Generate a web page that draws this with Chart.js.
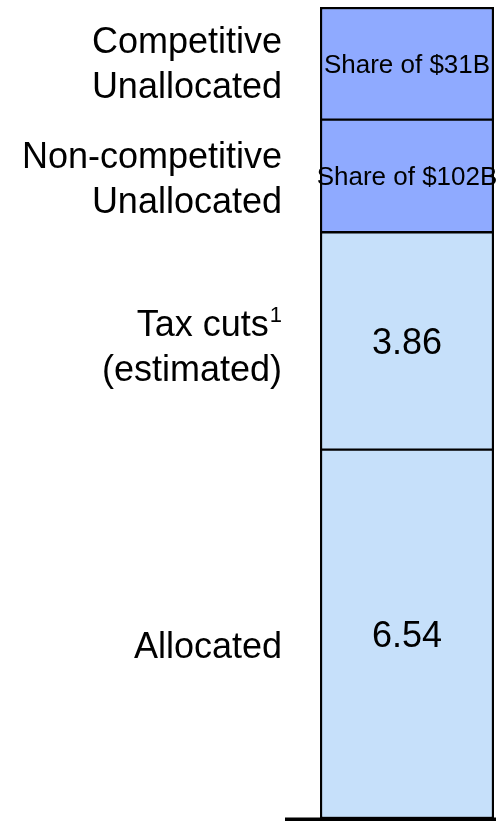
<!DOCTYPE html>
<html>
<head>
<meta charset="utf-8">
<script src="https://cdn.jsdelivr.net/npm/chart.js@4"></script>
<style>
  html, body { margin: 0; padding: 0; background: #fff; }
  #wrap { width: 496px; height: 822px; }
</style>
</head>
<body>
<div id="wrap"><canvas id="fundChart" width="496" height="822"></canvas></div>
<script>
// segments, bottom to top
var segmentNames = [['Allocated'], ['Tax cuts\u00b9', '(estimated)'], ['Non-competitive', 'Unallocated'], ['Competitive', 'Unallocated']];
var segmentValues = [6.54, 3.86, 2.0, 2.0];
var segmentLabels = ['6.54', '3.86', 'Share of $102B', 'Share of $31B'];
var segmentColors = ['#c6e0fa', '#c6e0fa', '#8faaff', '#8faaff'];

var total = segmentValues.reduce(function (a, b) { return a + b; }, 0);
var FONT = '"Liberation Sans", Arial, sans-serif';

var datasets = segmentValues.map(function (v, i) {
    return {
        label: segmentNames[i].join(' '),
        data: [v],
        backgroundColor: segmentColors[i],
        borderColor: '#000',
        borderWidth: { left: 2.5, right: 2.5, top: i === segmentValues.length - 1 ? 2.5 : 1.5, bottom: 1.5 },
        borderSkipped: false,
        barPercentage: 1,
        categoryPercentage: 1
    };
});

// draws the names on the left, the values in the bar and the base line
var textPlugin = {
    id: 'segmentText',
    afterDatasetsDraw: function (chart) {
        var ctx = chart.ctx;
        var y = chart.scales.y;
        var area = chart.chartArea;
        var cx = (area.left + area.right) / 2;
        var base = 0;
        ctx.save();
        ctx.fillStyle = '#000';
        ctx.textBaseline = 'alphabetic';
        segmentValues.forEach(function (v, i) {
            var mid = (y.getPixelForValue(base) + y.getPixelForValue(base + v)) / 2;
            base += v;

            // name to the left of the bar
            ctx.textAlign = 'right';
            var lines = segmentNames[i];
            var lh = 45;
            var nameMid = mid * 1.02 - 2;
            var start = nameMid - (lines.length - 1) * lh / 2;
            lines.forEach(function (t, k) {
                var by = start + k * lh + 13;
                var rx = 282;
                if (t.charAt(t.length - 1) === '\u00b9') {
                    ctx.font = '22px ' + FONT;
                    ctx.fillText('1', rx, by - 14);
                    rx -= ctx.measureText('1').width + 1;
                    t = t.slice(0, -1);
                }
                ctx.font = '36px ' + FONT;
                ctx.fillText(t, rx, by);
            });

            // value inside the bar
            var small = segmentLabels[i].indexOf('Share') === 0;
            ctx.font = (small ? '26px ' : '36px ') + FONT;
            ctx.textAlign = 'center';
            ctx.fillText(segmentLabels[i], cx, mid + (small ? 9.5 : 13.5));
        });

        // base line
        var y0 = y.getPixelForValue(0);
        ctx.fillRect(285, y0 - 0.5, chart.width - 285, 3.5);
        ctx.restore();
    }
};

new Chart(document.getElementById('fundChart').getContext('2d'), {
    type: 'bar',
    data: { labels: [''], datasets: datasets },
    options: {
        responsive: false,
        animation: false,
        layout: { padding: { left: 320, right: 2, top: 7, bottom: 4 } },
        plugins: { legend: { display: false }, tooltip: { enabled: false } },
        scales: {
            x: { stacked: true, display: false },
            y: { stacked: true, display: false, min: 0, max: total }
        }
    },
    plugins: [textPlugin]
});
</script>
</body>
</html>
